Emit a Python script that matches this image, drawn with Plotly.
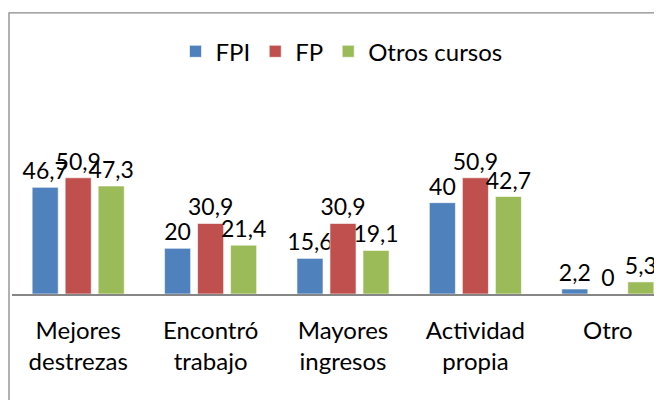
import plotly.graph_objects as go

categories = ["Mejores<br>destrezas", "Encontró<br>trabajo", "Mayores<br>ingresos", "Actividad<br>propia", "Otro"]
fpi = [46.7, 20, 15.6, 40, 2.2]
fp = [50.9, 30.9, 30.9, 50.9, 0]
otros = [47.3, 21.4, 19.1, 42.7, 5.3]

series = [("FPI", fpi, "#4F81BD"), ("FP", fp, "#C0504D"), ("Otros cursos", otros, "#9BBB59")]

# page body has an 8px margin; figure sized to fill the rest of the window
OFF = 8
W, H = 662 - OFF, 400 - OFF
ml, mr = 12 - OFF, 0
ph = 137.4
mb = 106
mt = H - mb - ph
pw = W - ml - mr
axis_fy = H - mb  # axis in figure coords

def fmt(v):
    return f"{v:g}".replace(".", ",")

fig = go.Figure()
for name, vals, col in series:
    fig.add_trace(go.Bar(
        name=name, x=categories, y=vals,
        marker=dict(color=col, line=dict(color="rgba(255,255,255,0.6)", width=1)),
        text=[fmt(v) for v in vals], textposition="outside",
        textfont=dict(family="Lato", size=23, color="black"),
        constraintext="none", cliponaxis=False,
        hoverinfo="skip",
    ))

frame_x0 = ((9 - OFF) - ml) / pw
frame_y1 = (axis_fy - (12 - OFF)) / ph
legend_cx = ((341.5 - OFF) - ml) / pw
legend_cy = (axis_fy - (51 - OFF)) / ph
px_per_cat = 132.4

fig.update_layout(
    width=W, height=H,
    margin=dict(l=ml, r=mr, t=mt, b=mb, pad=0),
    paper_bgcolor="white", plot_bgcolor="white",
    barmode="group", bargap=0.252, bargroupgap=0.21,
    font=dict(family="Lato", size=24, color="black"),
    showlegend=True,
    legend=dict(orientation="h", x=legend_cx, xanchor="center",
                y=legend_cy, yanchor="middle",
                font=dict(family="Lato", size=24, color="black"),
                bgcolor="rgba(0,0,0,0)"),
    xaxis=dict(type="category", range=[-0.5, -0.5 + pw / px_per_cat],
               showline=True, linecolor="#868686", linewidth=1.5,
               showgrid=False, zeroline=False, ticks="", ticklabelstandoff=14,
               tickfont=dict(family="Lato", size=24, color="black"), fixedrange=True),
    yaxis=dict(range=[0, 60], visible=False, showgrid=False, zeroline=False, fixedrange=True),
    shapes=[dict(type="rect", xref="paper", yref="paper",
                 x0=frame_x0, x1=1.05, y0=-1.5, y1=frame_y1,
                 line=dict(color="#898989", width=1.3), fillcolor="rgba(0,0,0,0)", layer="below")],
)

fig.write_html("out.html")
